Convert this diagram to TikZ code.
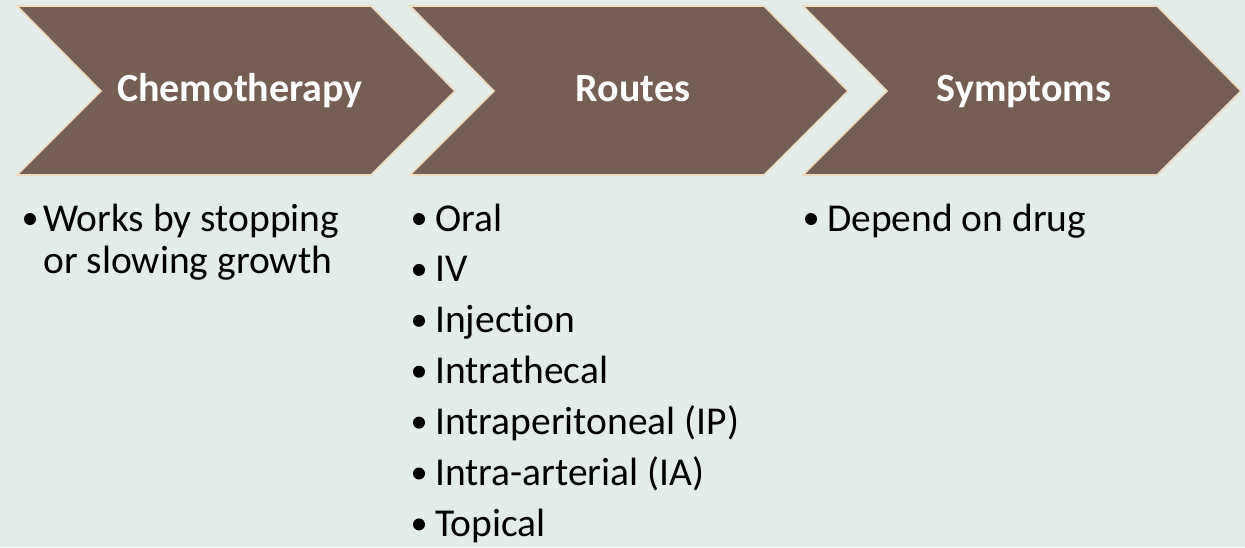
\documentclass[tikz,border=0pt]{standalone}
\usepackage{fontspec}
\setmainfont{Carlito}[Ligatures={NoCommon}]
\definecolor{bgc}{HTML}{E3ECE8}
\definecolor{chev}{HTML}{765E54}
\definecolor{chevline}{HTML}{EEDCC0}
\begin{document}
\begin{tikzpicture}[x=1pt,y=-1pt,
  chevshape/.style={fill=chev,draw=chevline,line width=1.6pt,line join=miter},
  title/.style={anchor=base,text=white,font=\fontsize{40}{48}\selectfont\bfseries,inner sep=0pt},
  item/.style={anchor=base west,text=black,font=\fontsize{39.5}{44}\selectfont,inner sep=0pt},
  dot/.style={circle,fill=black,inner sep=0pt,minimum size=12pt}
]
\fill[bgc] (0,0) rectangle (1245,547);
\useasboundingbox (0,0) rectangle (1245,547);
% chevrons
\foreach \i in {0,1,2}{
  \pgfmathsetmacro{\xo}{17+393*\i}
  \draw[chevshape] (\xo,6) -- ++(354,0) -- ++(84,85) -- ++(-84,84) -- ++(-354,0) -- ++(84,-84) -- cycle;
}
\node[title] (t1) at (240,101) {Chemotherapy};
\node[title] (t2) at (633,101) {Routes};
\node[title] (t3) at (1024,101) {Symptoms};
% column 1
\node[dot] (b1) at (30,219) {};
\node[item] (c1a) at (43,231) {Works by stopping};
\node[item] (c1b) at (43,273) {or slowing growth};
% column 2
\foreach \t [count=\k from 0] in {Oral,IV,Injection,Intrathecal,Intraperitoneal (IP),Intra-arterial (IA),Topical}{
  \node[dot] (rb\k) at (419,219+50.9*\k) {};
  \node[item] (r\k) at (435,231+50.9*\k) {\t};
}
% column 3
\node[dot] (b3) at (811,219) {};
\node[item] (s1) at (827,231) {Depend on drug};
\end{tikzpicture}
\end{document}
